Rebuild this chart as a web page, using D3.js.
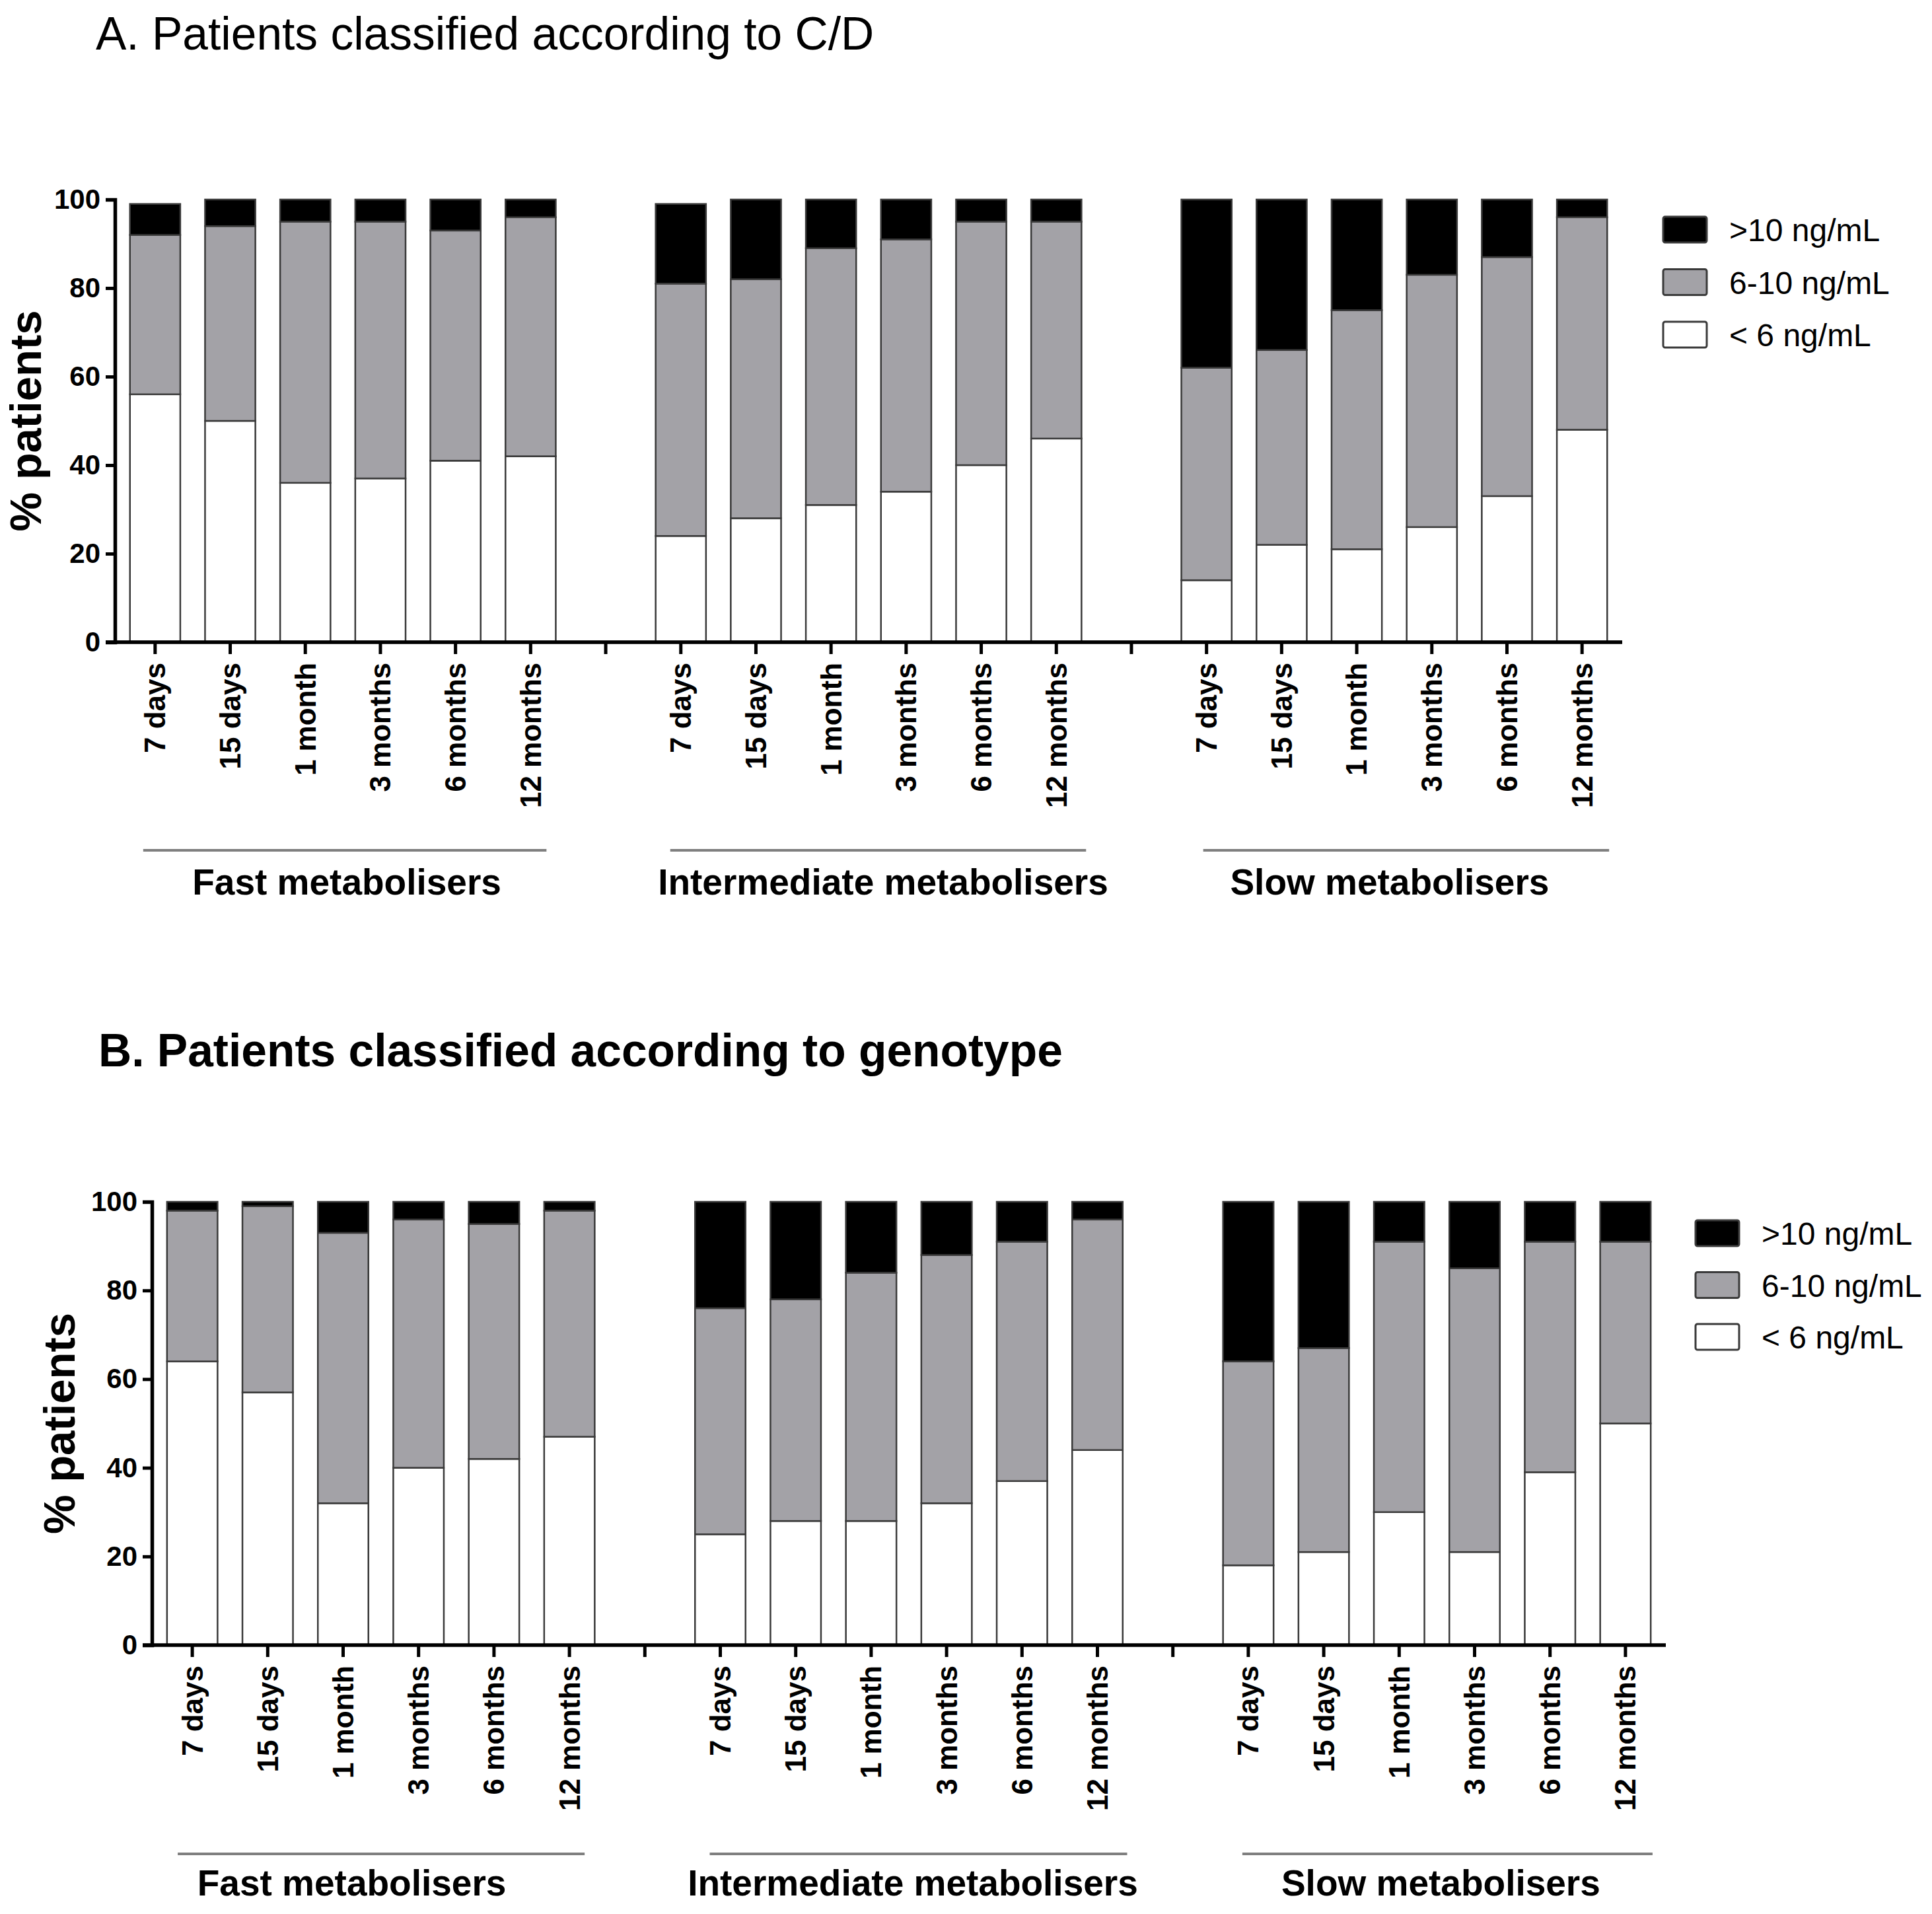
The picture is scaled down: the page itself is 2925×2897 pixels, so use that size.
<!DOCTYPE html>
<html>
<head>
<meta charset="utf-8">
<script src="https://cdn.jsdelivr.net/npm/d3@7"></script>
<style>
  html, body { margin: 0; padding: 0; background: #fff; }
  svg { display: block; font-family: "Liberation Sans", Arial, Helvetica, sans-serif; }
</style>
</head>
<body>
<svg id="chart" width="2925" height="2897"></svg>
<script>
// ---------- data ----------
const timepoints = ["7 days", "15 days", "1 month", "3 months", "6 months", "12 months"];
const groups = ["Fast metabolisers", "Intermediate metabolisers", "Slow metabolisers"];
const levels = [">10 ng/mL", "6-10 ng/mL", "< 6 ng/mL"];
const yTicks = [0, 20, 40, 60, 80, 100];
const titleA = "A. Patients classified according to C/D";
const titleB = "B. Patients classified according to genotype";
const yLabel = "% patients";

// Panel A (C/D) – % of patients per level; order: fast(6), intermediate(6), slow(6)
const cdBelow6  = [56, 50, 36, 37, 41, 42,  24, 28, 31, 34, 40, 46,  14, 22, 21, 26, 33, 48];
const cd6to10   = [36, 44, 59, 58, 52, 54,  57, 54, 58, 57, 55, 49,  48, 44, 54, 57, 54, 48];
const cdAbove10 = [ 7,  6,  5,  5,  7,  4,  18, 18, 11,  9,  5,  5,  38, 34, 25, 17, 13,  4];

// Panel B (genotype)
const genoBelow6  = [64, 57, 32, 40, 42, 47,  25, 28, 28, 32, 37, 44,  18, 21, 30, 21, 39, 50];
const geno6to10   = [34, 42, 61, 56, 53, 51,  51, 50, 56, 56, 54, 52,  46, 46, 61, 64, 52, 41];
const genoAbove10 = [ 2,  1,  7,  4,  5,  2,  24, 22, 16, 12,  9,  4,  36, 33,  9, 15,  9,  9];

// ---------- styles ----------
const FONT = '"Liberation Sans", Arial, Helvetica, sans-serif';
const colorHigh = "#000000", colorMid = "#a3a2a7", colorLow = "#ffffff";
const levelColors = [colorHigh, colorMid, colorLow];

const svg = d3.select("#chart");

const panels = [
  { title: titleA, bold: false, titleX: 145, titleY: 75,
    x0: 174, x1: 2456, yTop: 302, yBot: 972,
    low: cdBelow6, mid: cd6to10, high: cdAbove10,
    legendX: 2518, legendY: 328, legendStep: 79.5,
    yLabelX: 62, groupLineY: 1287, groupLabelY: 1354,
    labelDx: [6, 22, -7], lineStartDx: [-18, -16, -5], lineEndDx: [24, 45, 41] },
  { title: titleB, bold: true, titleX: 149, titleY: 1614,
    x0: 230, x1: 2522, yTop: 1819, yBot: 2490,
    low: genoBelow6, mid: geno6to10, high: genoAbove10,
    legendX: 2567, legendY: 1847, legendStep: 78.5,
    yLabelX: 113, groupLineY: 2806, groupLabelY: 2869,
    labelDx: [-44, 6, 6], lineStartDx: [-22, -16, -9], lineEndDx: [23, 45, 41] }
];

// slots: 6 bars, gap, 6 bars, gap, 6 bars
const slots = [];
groups.forEach((g, gi) => {
  timepoints.forEach((t, ti) => slots.push({ key: gi + "-" + ti, group: gi, time: t, idx: gi * 6 + ti }));
  if (gi < groups.length - 1) slots.push({ key: "gap" + gi, gap: true });
});

panels.forEach(p => {
  const g = svg.append("g");

  // title
  g.append("text")
    .attr("x", p.titleX).attr("y", p.titleY)
    .attr("font-size", 69.5)
    .attr("font-weight", p.bold ? "bold" : "normal")
    .attr("fill", "#000")
    .text(p.title);

  const x = d3.scaleBand()
    .domain(slots.map(s => s.key))
    .range([p.x0, p.x1])
    .paddingInner(0.33)
    .paddingOuter(0.2);

  const y = d3.scaleLinear().domain([0, 100]).range([p.yBot, p.yTop]);

  // table for stacking
  const rows = slots.filter(s => !s.gap).map(s => ({
    key: s.key,
    low: p.low[s.idx],
    mid: p.mid[s.idx],
    high: p.high[s.idx]
  }));
  const stack = d3.stack().keys(["low", "mid", "high"]);
  const series = stack(rows);
  const fills = { low: colorLow, mid: colorMid, high: colorHigh };

  g.append("g").selectAll("g")
    .data(series)
    .join("g")
      .attr("fill", d => fills[d.key])
    .selectAll("rect")
    .data(d => d)
    .join("rect")
      .attr("x", d => x(d.data.key))
      .attr("width", x.bandwidth())
      .attr("y", d => y(d[1]))
      .attr("height", d => y(d[0]) - y(d[1]))
      .attr("stroke", "#3a3a3a")
      .attr("stroke-width", 2.5);

  // y axis
  const yAxis = d3.axisLeft(y).tickValues(yTicks).tickSize(14).tickPadding(8);
  const ya = g.append("g").attr("transform", `translate(${p.x0},0)`).call(yAxis);
  ya.select(".domain").attr("stroke", "#000").attr("stroke-width", 5.5);
  ya.selectAll(".tick line").attr("stroke", "#000").attr("stroke-width", 5);
  ya.selectAll(".tick text")
    .attr("font-family", FONT).attr("font-size", 42).attr("font-weight", "bold").attr("fill", "#000");

  // x axis (ticks at every slot incl. gaps)
  const xAxis = d3.axisBottom(x).tickSize(18).tickSizeOuter(0).tickFormat(() => "");
  const xa = g.append("g").attr("transform", `translate(0,${p.yBot})`).call(xAxis);
  xa.select(".domain").remove();
  xa.selectAll(".tick line").attr("stroke", "#000").attr("stroke-width", 5);
  g.append("line")
    .attr("x1", p.x0 - 14).attr("x2", p.x1)
    .attr("y1", p.yBot).attr("y2", p.yBot)
    .attr("stroke", "#000").attr("stroke-width", 5.5);

  // x tick labels (rotated)
  g.append("g").selectAll("text")
    .data(slots.filter(s => !s.gap))
    .join("text")
      .attr("transform", s => `translate(${x(s.key) + x.bandwidth() / 2},${p.yBot + 31}) rotate(-90)`)
      .attr("text-anchor", "end")
      .attr("dy", "0.35em")
      .attr("font-size", 44)
      .attr("font-weight", "bold")
      .attr("fill", "#000")
      .text(s => s.time);

  // y label
  g.append("text")
    .attr("transform", `translate(${p.yLabelX},${(p.yTop + p.yBot) / 2}) rotate(-90)`)
    .attr("text-anchor", "middle")
    .attr("font-size", 67)
    .attr("font-weight", "bold")
    .attr("fill", "#000")
    .text(yLabel);

  // group lines and labels
  groups.forEach((gr, gi) => {
    const first = x(gi + "-0") + x.bandwidth() / 2;
    const last = x(gi + "-5") + x.bandwidth() / 2;
    g.append("line")
      .attr("x1", first + p.lineStartDx[gi]).attr("x2", last + p.lineEndDx[gi])
      .attr("y1", p.groupLineY).attr("y2", p.groupLineY)
      .attr("stroke", "#7f7f7f").attr("stroke-width", 4);
    g.append("text")
      .attr("x", (first + last) / 2 + p.labelDx[gi])
      .attr("y", p.groupLabelY)
      .attr("text-anchor", "middle")
      .attr("font-size", 55)
      .attr("font-weight", "bold")
      .attr("fill", "#000")
      .text(gr);
  });

  // legend
  const lg = g.append("g");
  levels.forEach((lv, i) => {
    const ly = p.legendY + i * p.legendStep;
    lg.append("rect")
      .attr("x", p.legendX).attr("y", ly)
      .attr("width", 66).attr("height", 39)
      .attr("rx", 3)
      .attr("fill", levelColors[i])
      .attr("stroke", "#3a3a3a").attr("stroke-width", 3);
    lg.append("text")
      .attr("x", p.legendX + 100).attr("y", ly + 37)
      .attr("font-size", 48)
      .attr("fill", "#000")
      .text(lv);
  });
});
</script>
</body>
</html>
